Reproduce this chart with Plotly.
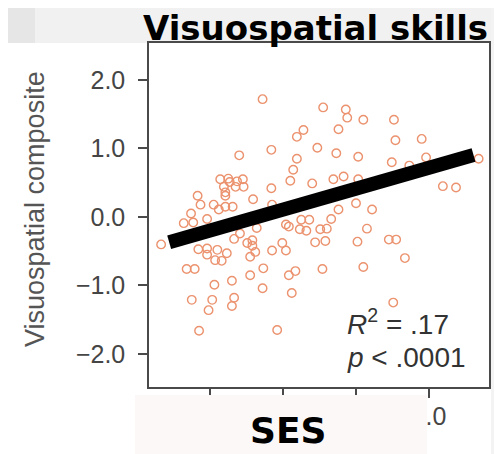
import plotly.graph_objects as go

# SES (x) and Visuospatial composite (y) values
ses = [-1.28, -0.45, -0.14, -0.12, 0.10, 0.52, -0.72, -0.81, -0.24, 0.54,
       0.90, -1.60, -1.16, -0.53, -0.27, 0.03, -0.81, -0.86, -0.90, 0.49,
       0.96, 1.68, 0.73, -0.31, -0.17, 0.03, -0.60, -1.16, 1.19, 1.37,
       -1.86, -1.75, -1.73, -1.63, -1.55, -1.81, -1.54, -1.65, -1.79, -1.79,
       -1.41, -2.17, -2.13, -1.95, -1.88, -1.79, -1.69, -2.26, -2.04, -2.36,
       -2.23, -1.15, 0.00, -0.24, 0.22, -0.75, -0.64, -0.34, -0.96, -0.92,
       -0.77, -0.68, -0.49, -0.40, 0.15, -1.36, -1.59, -1.67, -0.56, -0.42,
       -1.01, 0.02, 0.45, 0.55, -2.67, -2.16, -2.04, -1.90, -1.77, -2.04,
       -1.93, -1.84, -1.49, -1.42, -1.42, -1.38, -1.45, -1.15, -0.96, 0.67,
       -2.32, -2.21, -1.27, -1.45, -0.92, -0.83, -0.46, 0.10, -1.70, -1.94,
       -1.28, -0.88, -2.25, -1.97, -1.67, -1.70, -2.02, 0.51, -2.15, -1.08]
visuo = [1.72, 1.60, 1.57, 1.45, 1.42, 1.42, 1.27, 1.17, 1.28, 1.12,
         1.14, 0.90, 0.98, 1.01, 0.93, 0.88, 0.85, 0.69, 0.53, 0.80,
         0.87, 0.85, 0.75, 0.55, 0.59, 0.55, 0.49, 0.42, 0.45, 0.43,
         0.55, 0.56, 0.51, 0.52, 0.55, 0.44, 0.44, 0.44, 0.36, 0.31,
         0.26, 0.31, 0.18, 0.18, 0.11, 0.15, 0.15, 0.05, -0.03, -0.09,
         -0.08, 0.18, 0.20, 0.11, 0.11, -0.04, -0.04, -0.03, -0.11, -0.14,
         -0.18, -0.20, -0.18, -0.17, -0.17, -0.16, -0.24, -0.32, -0.37, -0.35,
         -0.38, -0.36, -0.33, -0.33, -0.40, -0.47, -0.46, -0.48, -0.53, -0.55,
         -0.63, -0.64, -0.38, -0.34, -0.42, -0.51, -0.58, -0.49, -0.49, -0.60,
         -0.76, -0.76, -0.75, -0.85, -0.85, -0.79, -0.76, -0.73, -0.93, -0.99,
         -1.04, -1.11, -1.21, -1.21, -1.18, -1.30, -1.36, -1.25, -1.66, -1.65]

# regression line end points
fit_x = [-2.56, 1.61]
fit_y = [-0.37, 0.905]

x_ticks = [-2, -1, 0, 1]
y_ticks = [-2, -1, 0, 1, 2]

title_text = "Visuospatial skills"
y_title = "Visuospatial composite"
x_title = "SES"
stat_lines = ["<i>R</i><sup>2</sup> = .17", "<i>p</i> < .0001"]

# page geometry (the html body adds an 8px margin around the figure)
PAGE_W, PAGE_H, OFF = 502, 454, 8
W, H = PAGE_W - OFF, PAGE_H - OFF
L, R, T, B = 149, 489, 43, 387   # plot frame in page pixels


def px(xp):
    return (xp - L) / (R - L)


def py(yp):
    return (B - yp) / (B - T)


fig = go.Figure()
fig.add_trace(go.Scatter(
    x=ses, y=visuo, mode="markers",
    marker=dict(symbol="circle-open", size=8.5, color="#ea875f",
                line=dict(width=1.4, color="#ea875f")),
    opacity=0.9, hoverinfo="skip", showlegend=False))
fig.add_trace(go.Scatter(
    x=fit_x, y=fit_y, mode="lines",
    line=dict(color="black", width=14), hoverinfo="skip", showlegend=False))

axis_common = dict(showgrid=False, zeroline=False, showline=True, mirror=True,
                   linecolor="#4a4a4a", linewidth=1.5, ticks="outside",
                   ticklen=9, tickwidth=1.5, tickcolor="#4a4a4a",
                   tickfont=dict(family="Liberation Sans, Arial, sans-serif",
                                 size=25, color="#454545"),
                   tickformat=".1f")

fig.update_layout(
    width=W, height=H,
    margin=dict(l=L - OFF, r=PAGE_W - R, t=T - OFF, b=PAGE_H - B, pad=0),
    paper_bgcolor="white", plot_bgcolor="white",
    xaxis=dict(range=[-2.836, 1.822], tickvals=x_ticks,
               ticklabelstandoff=-3, **axis_common),
    yaxis=dict(range=[-2.482, 2.54], tickvals=y_ticks,
               ticklabelstandoff=8, **axis_common),
)

shapes = [
    # slide background strips around the chart image
    dict(type="rect", xref="paper", yref="paper", x0=px(0), x1=px(PAGE_W),
         y0=py(43), y1=py(0), fillcolor="#f1f1f1", line_width=0, layer="below"),
    dict(type="rect", xref="paper", yref="paper", x0=px(0), x1=px(35),
         y0=py(43), y1=py(0), fillcolor="#e6e6e6", line_width=0, layer="below"),
    dict(type="rect", xref="paper", yref="paper", x0=px(491), x1=px(PAGE_W),
         y0=py(PAGE_H), y1=py(0), fillcolor="#f3f3f3", line_width=0,
         layer="above"),
    # label box covering the x tick labels
    dict(type="rect", xref="paper", yref="paper", x0=px(135), x1=px(427),
         y0=py(PAGE_H), y1=py(395), fillcolor="#fcf8f8", line_width=0,
         layer="above"),
]
fig.update_layout(shapes=shapes)

annotations = [
    dict(text="<b>" + title_text + "</b>", x=px(315), y=py(28),
         font=dict(family="DejaVu Sans, sans-serif", size=34, color="black")),
    dict(text="<b>" + x_title + "</b>", x=px(288), y=py(430),
         font=dict(family="DejaVu Sans, sans-serif", size=36, color="black")),
    dict(text=y_title, x=px(35), y=py(209), textangle=-90,
         font=dict(family="Liberation Sans, Arial, sans-serif", size=27,
                   color="#555555")),
    dict(text=stat_lines[0], x=px(345), y=py(322), xanchor="left",
         font=dict(family="Liberation Sans, Arial, sans-serif", size=28,
                   color="#333333")),
    dict(text=stat_lines[1], x=px(345), y=py(357), xanchor="left",
         font=dict(family="Liberation Sans, Arial, sans-serif", size=28,
                   color="#333333")),
]
for a in annotations:
    a.setdefault("xanchor", "center")
    a.update(xref="paper", yref="paper", yanchor="middle", showarrow=False)
fig.update_layout(annotations=annotations)

fig.write_html("out.html")
